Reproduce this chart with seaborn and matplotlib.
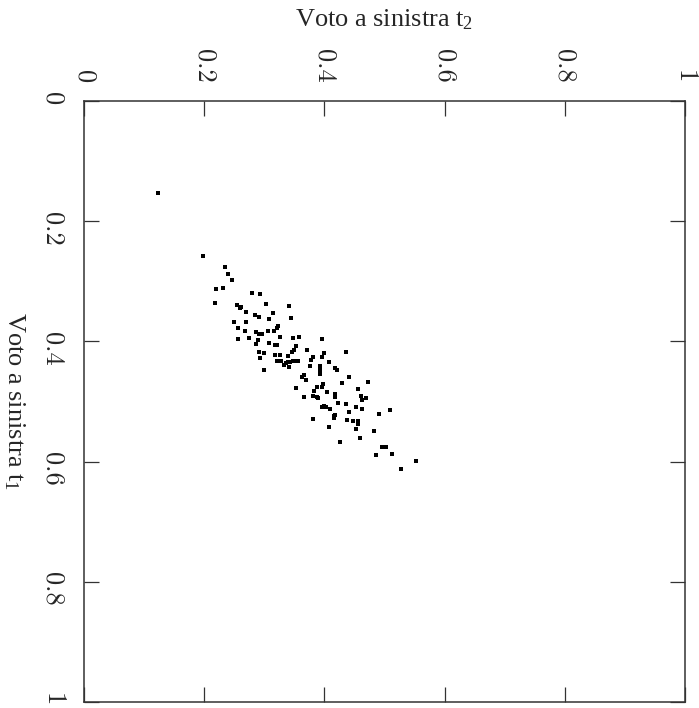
import matplotlib
matplotlib.use("Agg")
import matplotlib.pyplot as plt
import seaborn as sns
import pandas as pd

# voto a sinistra al tempo 2 (asse orizzontale in alto)
t2 = [0.124, 0.198, 0.234, 0.239, 0.246, 0.220, 0.231, 0.218, 0.280, 0.293,
      0.254, 0.259, 0.262, 0.269, 0.303, 0.341, 0.315, 0.285, 0.291, 0.308,
      0.345, 0.250, 0.270, 0.323, 0.322, 0.256, 0.268, 0.286, 0.291, 0.296,
      0.306, 0.316, 0.289, 0.327, 0.348, 0.358, 0.257, 0.275, 0.286, 0.308,
      0.318, 0.322, 0.396, 0.292, 0.300, 0.353, 0.349, 0.346, 0.371, 0.400,
      0.293, 0.318, 0.327, 0.339, 0.381, 0.377, 0.396,
      0.436, 0.408, 0.321, 0.328, 0.333, 0.336, 0.339, 0.343, 0.348, 0.352,
      0.356, 0.299, 0.342, 0.376, 0.393, 0.393, 0.418, 0.421, 0.367, 0.363,
      0.369, 0.393, 0.441, 0.472, 0.397, 0.396, 0.387, 0.353, 0.456, 0.430,
      0.382, 0.405, 0.388, 0.366, 0.418, 0.417, 0.390, 0.381, 0.461, 0.463,
      0.470, 0.422, 0.436, 0.396, 0.399, 0.403, 0.409, 0.452, 0.462, 0.510,
      0.441, 0.417, 0.416, 0.416, 0.381, 0.438, 0.447, 0.456, 0.491, 0.456,
      0.453, 0.408, 0.482, 0.459, 0.426, 0.496, 0.502, 0.486, 0.513, 0.552,
      0.528]

# voto a sinistra al tempo 1 (asse verticale a sinistra)
t1 = [0.153, 0.258, 0.276, 0.288, 0.298, 0.313, 0.311, 0.336, 0.320, 0.321,
      0.339, 0.345, 0.343, 0.351, 0.338, 0.342, 0.353, 0.357, 0.360, 0.363,
      0.362, 0.368, 0.368, 0.375, 0.378, 0.377, 0.383, 0.385, 0.387, 0.387,
      0.383, 0.383, 0.397, 0.393, 0.394, 0.393, 0.396, 0.394, 0.404, 0.402,
      0.406, 0.406, 0.396, 0.417, 0.420, 0.408, 0.414, 0.417, 0.414, 0.419,
      0.428, 0.423, 0.423, 0.425, 0.426, 0.431, 0.426,
      0.417, 0.435, 0.433, 0.433, 0.439, 0.436, 0.434, 0.435, 0.433, 0.433,
      0.432, 0.447, 0.443, 0.441, 0.441, 0.447, 0.444, 0.447, 0.456, 0.460,
      0.465, 0.455, 0.460, 0.467, 0.471, 0.476, 0.476, 0.477, 0.480, 0.470,
      0.483, 0.484, 0.492, 0.492, 0.488, 0.493, 0.495, 0.491, 0.491, 0.497,
      0.495, 0.503, 0.504, 0.510, 0.508, 0.510, 0.513, 0.509, 0.512, 0.515,
      0.517, 0.522, 0.524, 0.527, 0.530, 0.531, 0.533, 0.533, 0.521, 0.538,
      0.546, 0.543, 0.550, 0.561, 0.567, 0.575, 0.576, 0.589, 0.588, 0.599,
      0.612]

ticks = [0, 0.2, 0.4, 0.6, 0.8, 1]
tick_labels = ["0", "0.2", "0.4", "0.6", "0.8", "1"]

df = pd.DataFrame({"t1": t1, "t2": t2})

sns.set_style("ticks")
plt.rcParams["font.family"] = ["Liberation Serif", "DejaVu Serif"]
plt.rcParams["mathtext.default"] = "regular"

fig = plt.figure(figsize=(6.99, 7.08), dpi=100)
ax = fig.add_axes([0.120, 0.0085, 0.860, 0.849])

sns.scatterplot(data=df, x="t2", y="t1", ax=ax, marker="s", s=5,
                color="black", linewidth=0)

ax.set_xlim(0, 1)
ax.set_ylim(1, 0)
ax.xaxis.tick_top()
ax.set_xticks(ticks)
ax.set_yticks(ticks)
ax.set_xticklabels(tick_labels, rotation=-90, fontfamily="cmr10", fontsize=19)
ax.set_yticklabels(tick_labels, rotation=-90, fontfamily="cmr10", fontsize=19)
ax.tick_params(direction="in", length=11, width=0.9, color="#333333",
               top=True, bottom=True, left=True, right=True,
               labeltop=True, labelbottom=False, labelleft=True, labelright=False)
ax.tick_params(axis="x", pad=13)
ax.tick_params(axis="y", pad=14)

for sp in ax.spines.values():
    sp.set_color("#333333")
    sp.set_linewidth(1.1)

ax.set_xlabel("Voto a sinistra t$_2$", fontsize=19)
ax.xaxis.set_label_position("top")
ax.xaxis.set_label_coords(0.5, 1.135)
ax.xaxis.label.set_va("center")

ax.set_ylabel("Voto a sinistra t$_1$", fontsize=19, rotation=-90)
ax.yaxis.set_label_coords(-0.116, 0.5)
ax.yaxis.label.set_va("center")
ax.yaxis.label.set_ha("center")

fig.savefig("out.png", dpi=100)
